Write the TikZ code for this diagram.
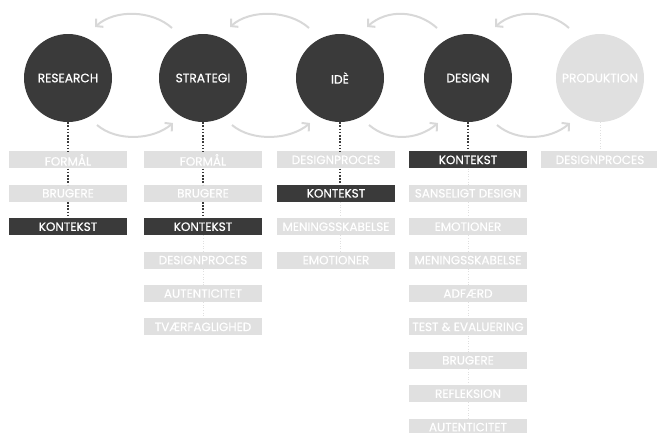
\documentclass[tikz,border=0pt]{standalone}
\usepackage{fontspec}
\setmainfont{Poppins}
\newfontfamily\labelfont{Poppins}[FakeBold=0.6]
\usepackage{xcolor}
\usepackage{tikz}
\usetikzlibrary{positioning,arrows.meta}

\definecolor{dark}{HTML}{3A3A3A}
\definecolor{pale}{HTML}{E0E0E0}
\definecolor{arcgray}{HTML}{D8D8D8}

\begin{document}
\begin{tikzpicture}[x=1pt, y=1pt,
    phase/.style={circle, fill=dark, text=white, minimum size=88pt, inner sep=0pt, font=\labelfont\fontsize{12.2}{13}\selectfont},
    topic/.style={rectangle, fill=pale, text=white, minimum width=118pt, minimum height=17pt, inner sep=0pt, font=\labelfont\fontsize{12}{13}\selectfont},
    focus/.style={topic, fill=dark},
    linkdark/.style={draw=dark, line width=1.6pt, dash pattern=on 1.6pt off 1.6pt},
    linkpale/.style={draw=pale, line width=1pt, dash pattern=on 1pt off 1.6pt},
    swing/.style={draw=arcgray, line width=2pt, -{Straight Barb[length=5pt,width=11pt]}}
]
\path[use as bounding box, clip] (0,0) rectangle (657,-432);

% Phases
\node[phase] (research) at (68,-78) {RESEARCH};
\node[phase] (strategi) at (203,-78) {STRATEGI};
\node[phase] (ide) at (340,-78) {IDÈ};
\node[phase] (design) at (468,-78) {DESIGN};
\node[phase, fill=pale] (produktion) at (600,-78) {PRODUKTION};

% Forward and back arcs
\draw[swing] ([shift={(29,-47)}]research.center) .. controls +(20,-17) and +(-20,-17) .. ([shift={(-30,-45)}]strategi.center);
\draw[swing] ([shift={(-31,50)}]strategi.center) .. controls +(-20,18) and +(20,18) .. ([shift={(27,51)}]research.center);
\draw[swing] ([shift={(29,-47)}]strategi.center) .. controls +(20,-17) and +(-20,-17) .. ([shift={(-30,-45)}]ide.center);
\draw[swing] ([shift={(-31,50)}]ide.center) .. controls +(-20,18) and +(20,18) .. ([shift={(27,51)}]strategi.center);
\draw[swing] ([shift={(29,-47)}]ide.center) .. controls +(20,-17) and +(-20,-17) .. ([shift={(-30,-45)}]design.center);
\draw[swing] ([shift={(-31,50)}]design.center) .. controls +(-20,18) and +(20,18) .. ([shift={(27,51)}]ide.center);
\draw[swing] ([shift={(29,-47)}]design.center) .. controls +(20,-17) and +(-20,-17) .. ([shift={(-30,-45)}]produktion.center);
\draw[swing] ([shift={(-31,50)}]produktion.center) .. controls +(-20,18) and +(20,18) .. ([shift={(27,51)}]design.center);

% Research
\node[topic, below=29pt of research] (r1) {FORMÅL};
\node[topic, below=16pt of r1] (r2) {BRUGERE};
\node[focus, below=16pt of r2] (r3) {KONTEKST};
\draw[linkdark] (research) -- (r1) -- (r2) -- (r3);

% Strategi
\node[topic, below=29pt of strategi] (s1) {FORMÅL};
\node[topic, below=16pt of s1] (s2) {BRUGERE};
\node[focus, below=16pt of s2] (s3) {KONTEKST};
\node[topic, below=16pt of s3] (s4) {DESIGNPROCES};
\node[topic, below=16pt of s4] (s5) {AUTENTICITET};
\node[topic, below=16pt of s5] (s6) {TVÆRFAGLIGHED};
\draw[linkdark] (strategi) -- (s1) -- (s2) -- (s3);
\draw[linkpale] (s3) -- (s4) -- (s5) -- (s6);

% Ide
\node[topic, below=29pt of ide, xshift=-4pt] (i1) {DESIGNPROCES};
\node[focus, below=16pt of i1] (i2) {KONTEKST};
\node[topic, below=16pt of i2] (i3) {MENINGSSKABELSE};
\node[topic, below=16pt of i3] (i4) {EMOTIONER};
\draw[linkdark] (ide.south) -- (ide.south |- i1.north);
\draw[linkdark] (ide.south |- i1.south) -- (ide.south |- i2.north);
\draw[linkpale] (ide.south |- i2.south) -- (ide.south |- i3.north);
\draw[linkpale] (ide.south |- i3.south) -- (ide.south |- i4.north);

% Design
\node[focus, below=29pt of design] (d1) {KONTEKST};
\node[topic, below=16pt of d1] (d2) {SANSELIGT DESIGN};
\node[topic, below=16pt of d2] (d3) {EMOTIONER};
\node[topic, below=16pt of d3] (d4) {MENINGSSKABELSE};
\node[topic, below=16pt of d4] (d5) {ADFÆRD};
\node[topic, below=16pt of d5] (d6) {TEST \& EVALUERING};
\node[topic, below=16pt of d6] (d7) {BRUGERE};
\node[topic, below=16pt of d7] (d8) {REFLEKSION};
\node[topic, below=16pt of d8] (d9) {AUTENTICITET};
\draw[linkdark] (design) -- (d1);
\draw[linkpale] (d1) -- (d2) -- (d3) -- (d4) -- (d5) -- (d6) -- (d7) -- (d8) -- (d9);

% Produktion
\node[topic, below=29pt of produktion] (p1) {DESIGNPROCES};
\draw[linkpale] (produktion) -- (p1);

\end{tikzpicture}
\end{document}
